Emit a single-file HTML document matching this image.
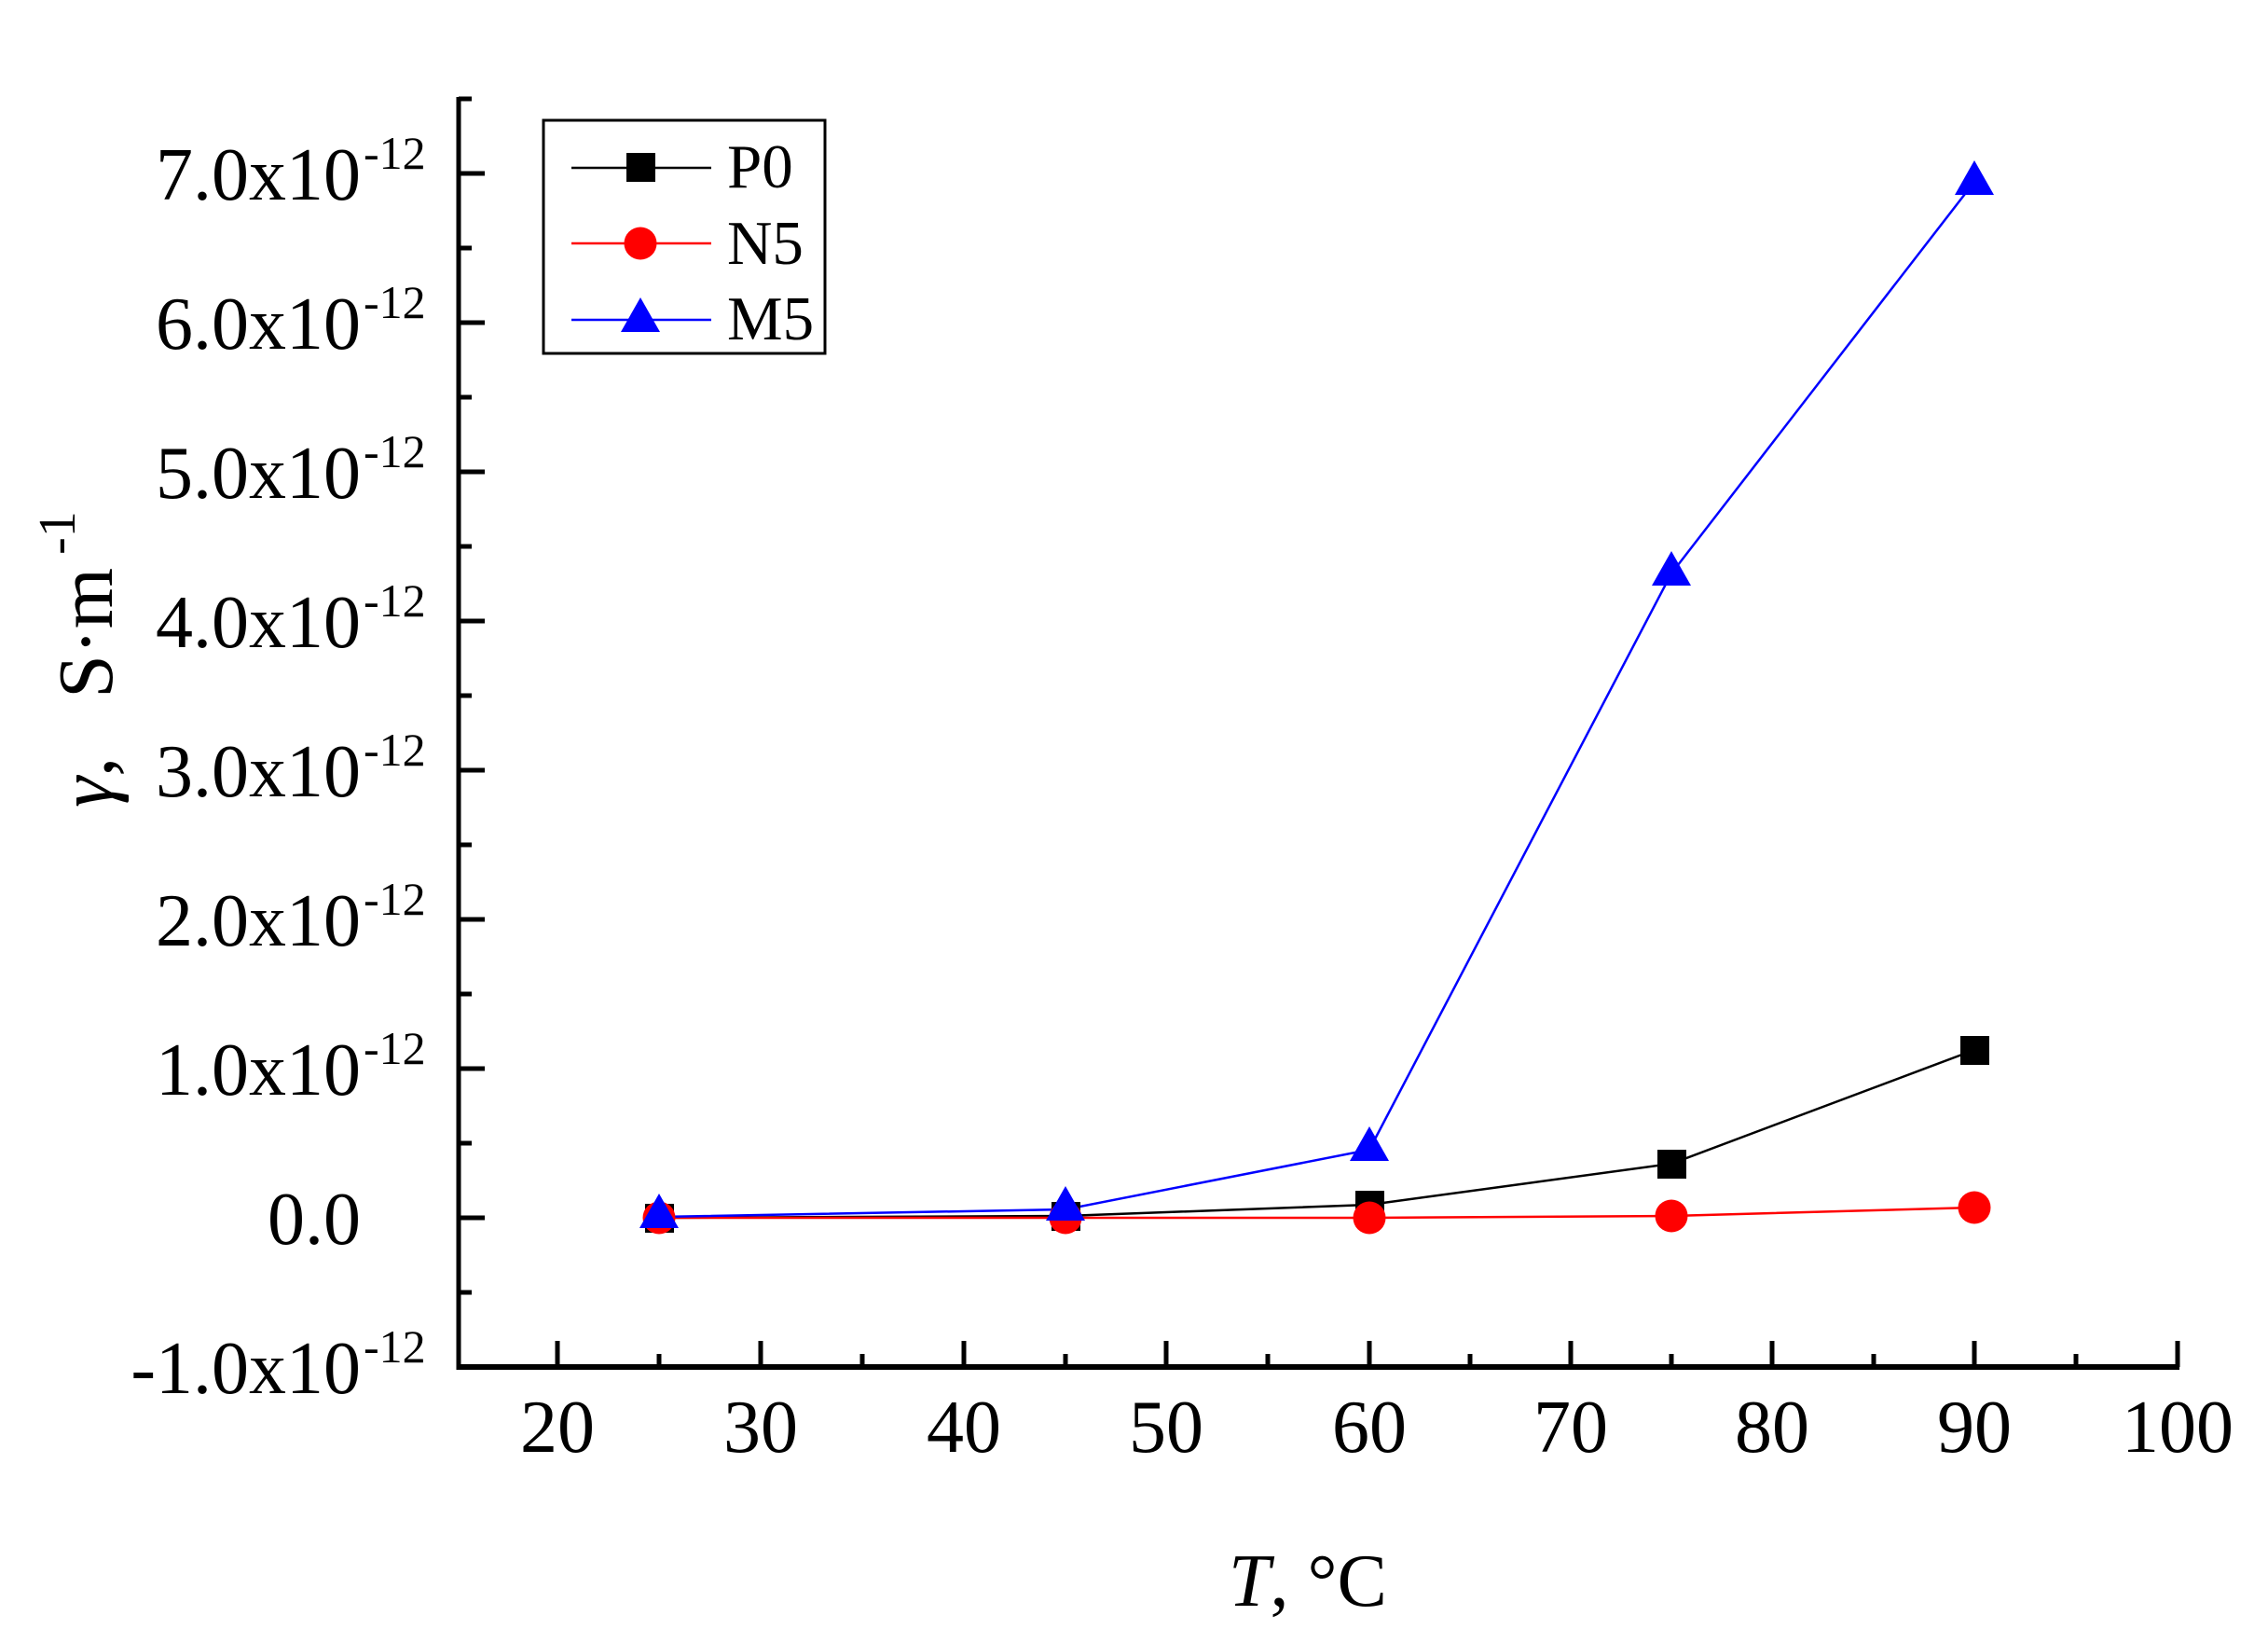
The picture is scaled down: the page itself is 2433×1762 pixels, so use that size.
<!DOCTYPE html>
<html><head><meta charset="utf-8"><style>
html,body{margin:0;padding:0;background:#fff;}
svg{display:block;}
text{font-family:"Liberation Serif",serif;fill:#000;}
</style></head><body>
<svg width="2433" height="1762" viewBox="0 0 2433 1762" xmlns="http://www.w3.org/2000/svg">
<rect width="2433" height="1762" fill="#fff"/>
<line x1="492" y1="104" x2="492" y2="1469" stroke="#000" stroke-width="5"/>
<line x1="490" y1="1466" x2="2338" y2="1466" stroke="#000" stroke-width="6"/>
<g stroke="#000" stroke-width="5">
<line x1="492" y1="106" x2="506" y2="106"/>
<line x1="492" y1="186" x2="520" y2="186"/><line x1="492" y1="266" x2="506" y2="266"/>
<line x1="492" y1="346" x2="520" y2="346"/><line x1="492" y1="426" x2="506" y2="426"/>
<line x1="492" y1="506" x2="520" y2="506"/><line x1="492" y1="586" x2="506" y2="586"/>
<line x1="492" y1="666" x2="520" y2="666"/><line x1="492" y1="746" x2="506" y2="746"/>
<line x1="492" y1="826" x2="520" y2="826"/><line x1="492" y1="906" x2="506" y2="906"/>
<line x1="492" y1="986" x2="520" y2="986"/><line x1="492" y1="1066" x2="506" y2="1066"/>
<line x1="492" y1="1146" x2="520" y2="1146"/><line x1="492" y1="1226" x2="506" y2="1226"/>
<line x1="492" y1="1306" x2="520" y2="1306"/><line x1="492" y1="1386" x2="506" y2="1386"/>
</g>
<g stroke="#000" stroke-width="5">
<line x1="598" y1="1466" x2="598" y2="1438"/><line x1="707" y1="1466" x2="707" y2="1452"/>
<line x1="816" y1="1466" x2="816" y2="1438"/><line x1="925" y1="1466" x2="925" y2="1452"/>
<line x1="1034" y1="1466" x2="1034" y2="1438"/><line x1="1143" y1="1466" x2="1143" y2="1452"/>
<line x1="1251" y1="1466" x2="1251" y2="1438"/><line x1="1360" y1="1466" x2="1360" y2="1452"/>
<line x1="1469" y1="1466" x2="1469" y2="1438"/><line x1="1577" y1="1466" x2="1577" y2="1452"/>
<line x1="1685" y1="1466" x2="1685" y2="1438"/><line x1="1793" y1="1466" x2="1793" y2="1452"/>
<line x1="1901" y1="1466" x2="1901" y2="1438"/><line x1="2010" y1="1466" x2="2010" y2="1452"/>
<line x1="2118" y1="1466" x2="2118" y2="1438"/><line x1="2227" y1="1466" x2="2227" y2="1452"/>
<line x1="2336" y1="1466" x2="2336" y2="1438"/>
</g>
<g font-size="80" text-anchor="middle">
<text x="598" y="1557">20</text><text x="816" y="1557">30</text><text x="1034" y="1557">40</text>
<text x="1251" y="1557">50</text><text x="1469" y="1557">60</text><text x="1685" y="1557">70</text>
<text x="1901" y="1557">80</text><text x="2118" y="1557">90</text><text x="2336" y="1557">100</text>
</g>
<g font-size="80" text-anchor="end">
<text x="387" y="214">7.0x10</text><text x="387" y="374">6.0x10</text>
<text x="387" y="534">5.0x10</text><text x="387" y="694">4.0x10</text>
<text x="387" y="854">3.0x10</text><text x="387" y="1014">2.0x10</text>
<text x="387" y="1174">1.0x10</text><text x="387" y="1334">0.0</text>
<text x="387" y="1494">-1.0x10</text>
</g>
<g font-size="50" text-anchor="start">
<text x="390" y="181">-12</text><text x="390" y="341">-12</text>
<text x="390" y="501">-12</text><text x="390" y="661">-12</text>
<text x="390" y="821">-12</text><text x="390" y="981">-12</text>
<text x="390" y="1141">-12</text><text x="390" y="1461">-12</text>
</g>
<text x="1318" y="1722" font-size="80"><tspan font-style="italic">T</tspan>, °C</text>
<text transform="translate(120,866) rotate(-90)" font-size="84" xml:space="preserve"><tspan font-style="italic">γ</tspan>,   S·m<tspan font-size="56" dx="14" dy="-40">-1</tspan></text>
<polyline fill="none" stroke="#000" stroke-width="2.5" points="707,1306 1143,1304 1469,1292 1793,1248 2118,1126"/>
<polyline fill="none" stroke="#f00" stroke-width="2.5" points="707,1306 1143,1306 1469,1306 1793,1304 2118,1295"/>
<polyline fill="none" stroke="#00f" stroke-width="2.5" points="707,1305 1143,1297 1469,1233 1793,615 2118,195"/>
<g fill="#000">
<rect x="692" y="1291" width="31" height="31"/><rect x="1128" y="1289" width="31" height="31"/>
<rect x="1454" y="1277" width="31" height="31"/><rect x="1778" y="1233" width="31" height="31"/>
<rect x="2103" y="1111" width="31" height="31"/>
</g>
<g fill="#f00">
<circle cx="707" cy="1306" r="17.5"/><circle cx="1143" cy="1306" r="17.5"/>
<circle cx="1469" cy="1306" r="17.5"/><circle cx="1793" cy="1304" r="17.5"/>
<circle cx="2118" cy="1295" r="17.5"/>
</g>
<g fill="#00f">
<polygon points="707,1280 728,1317 686,1317"/>
<polygon points="1143,1272 1164,1309 1122,1309"/>
<polygon points="1469,1208 1490,1245 1448,1245"/>
<polygon points="1793,591 1814,628 1772,628"/>
<polygon points="2118,172 2139,209 2097,209"/>
</g>
<rect x="583" y="129" width="302" height="250" fill="#fff" stroke="#000" stroke-width="3"/>
<line x1="613" y1="180" x2="763" y2="180" stroke="#000" stroke-width="2.5"/>
<rect x="672" y="164" width="31" height="31" fill="#000"/>
<line x1="613" y1="261" x2="763" y2="261" stroke="#f00" stroke-width="2.5"/>
<circle cx="687" cy="261" r="17.5" fill="#f00"/>
<line x1="613" y1="343" x2="763" y2="343" stroke="#00f" stroke-width="2.5"/>
<polygon points="687,319 708,356 666,356" fill="#00f"/>
<g font-size="67">
<text x="780" y="201">P0</text><text x="780" y="283">N5</text><text x="780" y="364">M5</text>
</g>
</svg>
</body></html>
